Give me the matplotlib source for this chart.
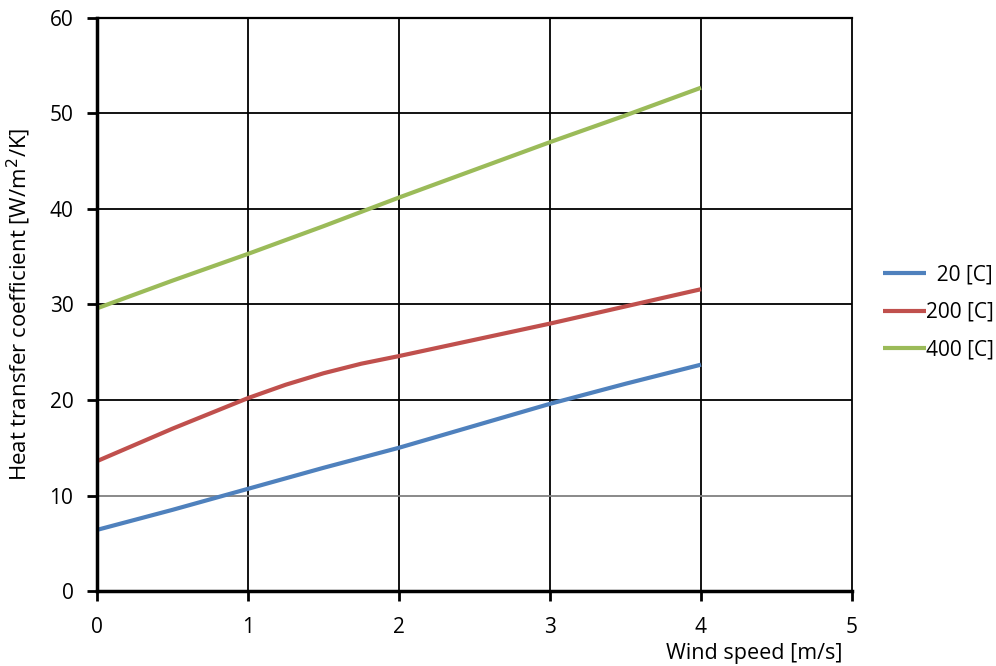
import matplotlib
matplotlib.use("Agg")
import matplotlib.pyplot as plt

# wind speed [m/s] and heat transfer coefficient [W/m2/K] per temperature
wind = [0, 0.5, 1, 1.5, 2, 2.5, 3, 3.5, 4]
h_20 = [6.4, 8.5, 10.7, 12.9, 15.0, 17.3, 19.6, 21.7, 23.7]
h_400 = [29.6, 32.5, 35.3, 38.2, 41.2, 44.1, 47.0, 49.8, 52.7]
# the 200 C curve bends between 1 and 2 m/s, so it is read more finely there
wind_200 = [0, 0.25, 0.5, 0.75, 1, 1.25, 1.5, 1.75, 2, 2.5, 3, 3.5, 4]
h_200 = [13.6, 15.3, 17.0, 18.6, 20.2, 21.6, 22.8, 23.8, 24.6, 26.3, 28.0, 29.8, 31.6]
labels = ["  20 [C]", "200 [C]", "400 [C]"]

plt.rcParams['font.family'] = ['Open Sans', 'DejaVu Sans']

fig = plt.figure(figsize=(9.96, 6.66), dpi=100)
ax = fig.add_axes([0.0974, 0.1126, 0.758, 0.8604])

ax.plot(wind, h_20, color='#4F81BD', lw=3, label=labels[0], solid_capstyle='butt')
ax.plot(wind_200, h_200, color='#C0504D', lw=3, label=labels[1], solid_capstyle='butt')
ax.plot(wind, h_400, color='#9BBB59', lw=3, label=labels[2], solid_capstyle='butt')

ax.set_xlim(0, 5)
ax.set_ylim(0, 60)
ax.set_xticks(range(0, 6))
ax.set_yticks(range(0, 70, 10))

# grid: black, except the 10 line which is grey
for x in range(1, 5):
    ax.axvline(x, color='black', lw=1.3, zorder=0)
for y in range(10, 60, 10):
    ax.axhline(y, color='#808080' if y == 10 else 'black', lw=1.3, zorder=0)

ax.spines['left'].set_linewidth(2.5)
ax.spines['bottom'].set_linewidth(2.5)
ax.spines['right'].set_linewidth(1.3)
ax.spines['top'].set_linewidth(1.6)
ax.tick_params(direction='out', length=7, width=2, labelsize=15, colors='black')
ax.tick_params(axis='x', pad=12)
ax.tick_params(axis='y', pad=10)

ax.set_xlabel('Wind speed [m/s]', fontsize=15.5, loc='right')
ax.xaxis.set_label_coords(0.988, -0.091)
ax.set_ylabel('Heat transfer coefficient [W/m$^2$/K]', fontsize=16)
ax.yaxis.set_label_coords(-0.085, 0.5)

fig.legend(loc='center left', bbox_to_anchor=(0.868, 0.531), frameon=False,
           fontsize=15, handlelength=2.05, handletextpad=0.0, labelspacing=0.8)

plt.savefig('out.png', dpi=100)
